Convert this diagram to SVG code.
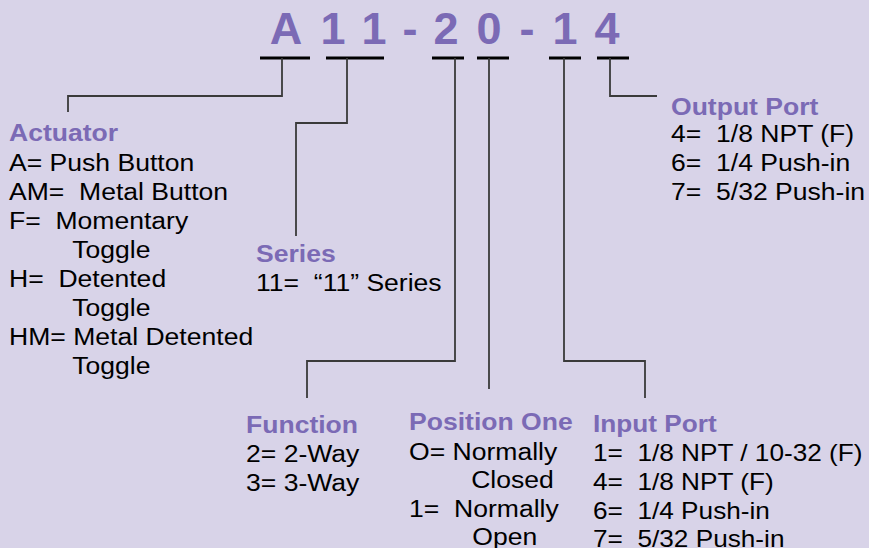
<svg xmlns="http://www.w3.org/2000/svg" width="869" height="548" viewBox="0 0 869 548">
<style>
.bg{fill:#d8d3e8}
.title{font-family:"Liberation Sans",Arial,sans-serif;font-weight:bold;font-size:45px;fill:#7b6ab5;text-anchor:middle}
.h{font-family:"Liberation Sans",Arial,sans-serif;font-weight:bold;font-size:23.5px;fill:#7b6ab5}
.t{font-family:"Liberation Sans",Arial,sans-serif;font-size:23.5px;fill:#000;white-space:pre}
.bar{stroke:#000;stroke-width:3}
.c{fill:none;stroke:#3a3a3a;stroke-width:1.8}
</style>
<rect class="bg" x="0" y="0" width="869" height="548"/>
<g id="code">
<text class="title" x="286" y="44">A</text>
<text class="title" x="333" y="44">1</text>
<text class="title" x="374" y="44">1</text>
<text class="title" x="410" y="44">-</text>
<text class="title" x="446" y="44">2</text>
<text class="title" x="489" y="44">0</text>
<text class="title" x="527" y="44">-</text>
<text class="title" x="565" y="44">1</text>
<text class="title" x="607" y="44">4</text>
<line class="bar" x1="260" y1="58" x2="310" y2="58"/>
<line class="bar" x1="326" y1="58" x2="384" y2="58"/>
<line class="bar" x1="432" y1="58" x2="464" y2="58"/>
<line class="bar" x1="477" y1="58" x2="509" y2="58"/>
<line class="bar" x1="549" y1="58" x2="581" y2="58"/>
<line class="bar" x1="597" y1="58" x2="629" y2="58"/>
</g>
<g id="connectors">
<polyline class="c" points="282,58 282,96 68,96 68,112"/>
<polyline class="c" points="347,58 347,123 296,123 296,236"/>
<polyline class="c" points="455,58 455,361 307,361 307,398"/>
<polyline class="c" points="489,58 489,389"/>
<polyline class="c" points="564,58 564,361 645,361 645,398"/>
<polyline class="c" points="610,58 610,96 657,96"/>
</g>
<g id="actuator" transform="translate(9,0) scale(1.13,1)">
<text class="h" x="0" y="141">Actuator</text>
<text class="t" x="0" y="171">A= Push Button</text>
<text class="t" x="0" y="200">AM=  Metal Button</text>
<text class="t" x="0" y="229">F=  Momentary</text>
<text class="t" x="56" y="258">Toggle</text>
<text class="t" x="0" y="287">H=  Detented</text>
<text class="t" x="56" y="316">Toggle</text>
<text class="t" x="0" y="345">HM= Metal Detented</text>
<text class="t" x="56" y="374">Toggle</text>
</g>
<g id="series" transform="translate(256,0) scale(1.13,1)">
<text class="h" x="0" y="262">Series</text>
<text class="t" x="0" y="291">11=  “11” Series</text>
</g>
<g id="function" transform="translate(246,0) scale(1.13,1)">
<text class="h" x="0" y="433">Function</text>
<text class="t" x="0" y="462">2= 2-Way</text>
<text class="t" x="0" y="491">3= 3-Way</text>
</g>
<g id="position-one" transform="translate(409,0) scale(1.13,1)">
<text class="h" x="0" y="430">Position One</text>
<text class="t" x="0" y="460">O= Normally</text>
<text class="t" x="55" y="488">Closed</text>
<text class="t" x="0" y="517">1=  Normally</text>
<text class="t" x="56" y="545">Open</text>
</g>
<g id="input-port" transform="translate(593,0) scale(1.115,1)">
<text class="h" x="0" y="432">Input Port</text>
<text class="t" x="0" y="461">1=  1/8 NPT / 10-32 (F)</text>
<text class="t" x="0" y="490">4=  1/8 NPT (F)</text>
<text class="t" x="0" y="519">6=  1/4 Push-in</text>
<text class="t" x="0" y="547">7=  5/32 Push-in</text>
</g>
<g id="output-port" transform="translate(671,0) scale(1.13,1)">
<text class="h" x="0" y="115">Output Port</text>
<text class="t" x="0" y="142">4=  1/8 NPT (F)</text>
<text class="t" x="0" y="171">6=  1/4 Push-in</text>
<text class="t" x="0" y="200">7=  5/32 Push-in</text>
</g>
</svg>
